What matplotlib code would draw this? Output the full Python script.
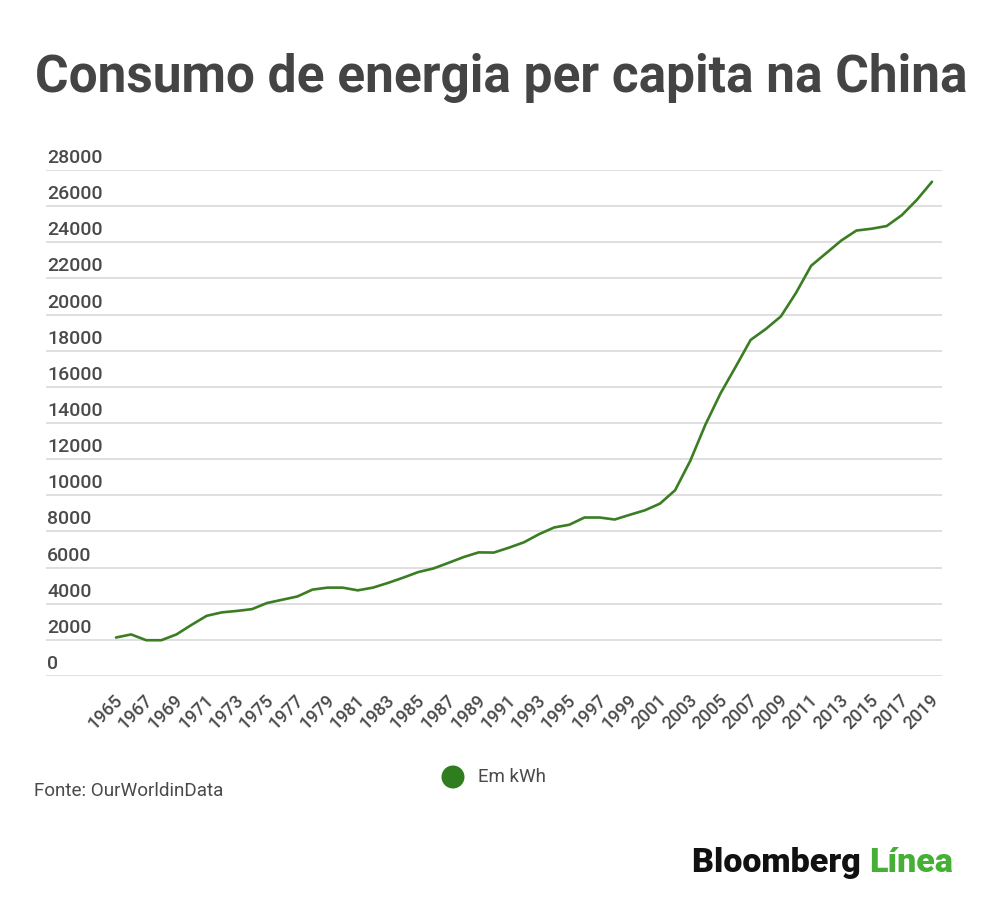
import matplotlib
matplotlib.use("Agg")
import matplotlib.pyplot as plt
import matplotlib.transforms as mtransforms
from matplotlib.patches import Ellipse

years = list(range(1965, 2020))
values = [2130, 2300, 1980, 1980, 2300, 2830, 3330, 3520, 3600, 3700,
          4040, 4220, 4400, 4780, 4890, 4890, 4740, 4890, 5150, 5440,
          5750, 5950, 6260, 6580, 6840, 6830, 7100, 7400, 7850, 8220,
          8370, 8770, 8770, 8660, 8920, 9170, 9540, 10280, 11900, 13900,
          15630, 17100, 18600, 19200, 19900, 21200, 22700, 23400, 24100, 24650,
          24750, 24900, 25500, 26350, 27350]
y_ticks = list(range(0, 28001, 2000))
x_ticks = list(range(1965, 2020, 2))

title = "Consumo de energia per capita na China"
series_label = "Em kWh"
source = "Fonte: OurWorldinData"

W, H = 1000, 905
fig = plt.figure(figsize=(W / 100, H / 100), dpi=100)
plt.rcParams['font.family'] = ['Roboto', 'DejaVu Sans']

left, right = 46, 942
top, bottom = 170, 676
ax = fig.add_axes([left / W, (H - bottom) / H, (right - left) / W, (bottom - top) / H])

px_per_year = (932 - 116) / 54
x0 = 1965 - (116 - left) / px_per_year
x1 = 2019 + (right - 932) / px_per_year
ax.set_xlim(x0, x1)
ax.set_ylim(0, 28000)

line_color = "#3a7d22"
ax.plot(years, values, color=line_color, linewidth=1.9, solid_capstyle="round",
        solid_joinstyle="round", zorder=3, clip_on=False)

label_color = "#4a4a4a"
for v in y_ticks:
    ax.axhline(v, color="#dcdcdc", linewidth=1.3, zorder=1)
    ax.annotate(str(v), xy=(0, v), xycoords=("axes fraction", "data"),
                xytext=(1, 3), textcoords="offset pixels", ha="left", va="bottom",
                fontsize=14, color=label_color, fontweight="medium")

for s in ax.spines.values():
    s.set_visible(False)
ax.set_yticks([])
ax.set_xticks(x_ticks)
ax.set_xticklabels([str(x) for x in x_ticks], rotation=45, ha="right",
                   va="center", rotation_mode="anchor", fontsize=13, color=label_color,
                   fontweight="medium")
ax.tick_params(axis="x", length=0, pad=15)
shift = mtransforms.ScaledTranslation(4 / 100, -1 / 100, fig.dpi_scale_trans)
for lbl in ax.get_xticklabels():
    lbl.set_transform(lbl.get_transform() + shift)

fig.text(35 / W, 1 - 92 / H, title, fontsize=37, fontweight="bold", color="#444444",
         ha="left", va="baseline")

fig.text(34 / W, 1 - 791 / H, source, fontsize=13.6, color="#4a4a4a", ha="left", va="center")

fig.add_artist(Ellipse((453 / W, 1 - 777 / H), width=23 / W, height=23 / H,
                       transform=fig.transFigure, facecolor="#2e7d1e", edgecolor="none"))
fig.text(478 / W, 1 - 777 / H, series_label, fontsize=13.5, color="#4a4a4a", ha="left", va="center")

t1 = fig.text(692 / W, 1 - 872 / H, "Bloomberg ", fontsize=24.5, fontweight="heavy",
              color="#111111", ha="left", va="baseline")
fig.canvas.draw()
bb = t1.get_window_extent()
fig.text(bb.x1 / W, 1 - 872 / H, "Línea", fontsize=24.5, fontweight="heavy",
         color="#45b035", ha="left", va="baseline")

fig.savefig("out.png", dpi=100, facecolor="white")
